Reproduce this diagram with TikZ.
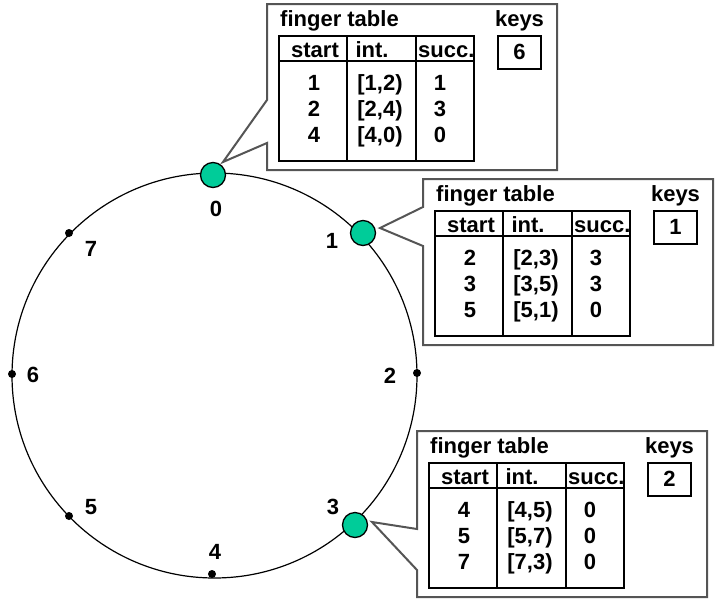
\documentclass[tikz,border=0pt]{standalone}
\usepackage{fontspec}
\setmainfont{Liberation Sans}
\definecolor{nodegreen}{RGB}{0,204,153}
\definecolor{boxgray}{RGB}{85,85,85}
\newcommand{\fingerbox}[8]{%
  \begin{scope}[shift={(#1,#2)}]
    \draw[callout] (0,0) -- (290,0) -- (290,166) -- (0,166) -- (0,#4) -- (#5) -- (0,#3) -- cycle;
    \draw[tbl] (12,32) rectangle (207,157);
    \draw[tbl] (12,57) -- (207,57);
    \draw[tbl] (80,32) -- (80,157);
    \draw[tbl] (149,32) -- (149,157);
    \draw[tbl] (231,32) rectangle (274,65);
    \node[txt, anchor=base west] (#7title) at (13,22) {finger table};
    \node[txt] (#7keys) at (252.5,22) {keys};
    \node[txt] (#7keyval) at (252.5,55) {#6};
    \node[txt] (#7hstart) at (48,53) {start};
    \node[txt] (#7hint) at (105,53) {int.};
    \node[txt, anchor=base west] (#7hsucc) at (151,53) {succ.};
    \foreach \colA/\colB/\colC [count=\k] in {#8} {
      \node[txt] (#7s\k) at (47,{60+26*\k}) {\colA};
      \node[txt] (#7i\k) at (113,{60+26*\k}) {\colB};
      \node[txt] (#7c\k) at (173,{60+26*\k}) {\colC};
    }
  \end{scope}}
\begin{document}
\begin{tikzpicture}[x=1pt,y=-1pt,
  lbl/.style={font=\fontsize{22}{26}\selectfont\bfseries, inner sep=0pt},
  txt/.style={font=\fontsize{22}{26}\selectfont\bfseries, inner sep=0pt, anchor=base},
  peer/.style={circle, draw=black, line width=1.3pt, fill=nodegreen, minimum size=25pt, inner sep=0pt},
  dot/.style={circle, fill=black, minimum size=8pt, inner sep=0pt},
  callout/.style={draw=boxgray, line width=2pt, fill=white, line join=miter},
  tbl/.style={draw=black, line width=1.5pt},
  ring/.style={draw=black, line width=1.2pt},
]
\useasboundingbox (0,0) rectangle (717,603);
\coordinate (ctr) at (214.5,375.5);
\draw[ring] (ctr) circle [radius=202.5pt];

\coordinate (t0) at (223,162);
\coordinate (t1) at (380,228);
\coordinate (t3) at (372,522);

\fingerbox{267}{4}{96}{139}{t0}{6}{a}{1/{[1,2)}/1, 2/{[2,4)}/3, 4/{[4,0)}/0}
\fingerbox{423}{179}{28}{67}{t1}{1}{b}{2/{[2,3)}/3, 3/{[3,5)}/3, 5/{[5,1)}/0}
\fingerbox{417}{431}{98}{139}{t3}{2}{c}{4/{[4,5)}/0, 5/{[5,7)}/0, 7/{[7,3)}/0}

\node[peer] (n0) at (213,175) {};
\node[peer] (n1) at (363,233) {};
\node[peer] (n3) at (355,525) {};
\node[dot] (d2) at (417,373) {};
\node[dot] (d4) at (212,574) {};
\node[dot] (d5) at (69,516) {};
\node[dot] (d6) at (12,374) {};
\node[dot] (d7) at (69,233) {};

\node[lbl] (l0) at (216,209) {0};
\node[lbl] (l1) at (332,241) {1};
\node[lbl] (l2) at (390,376) {2};
\node[lbl] (l3) at (333,507) {3};
\node[lbl] (l4) at (215,552) {4};
\node[lbl] (l5) at (91,507) {5};
\node[lbl] (l6) at (33,375) {6};
\node[lbl] (l7) at (91,249) {7};
\end{tikzpicture}
\end{document}
